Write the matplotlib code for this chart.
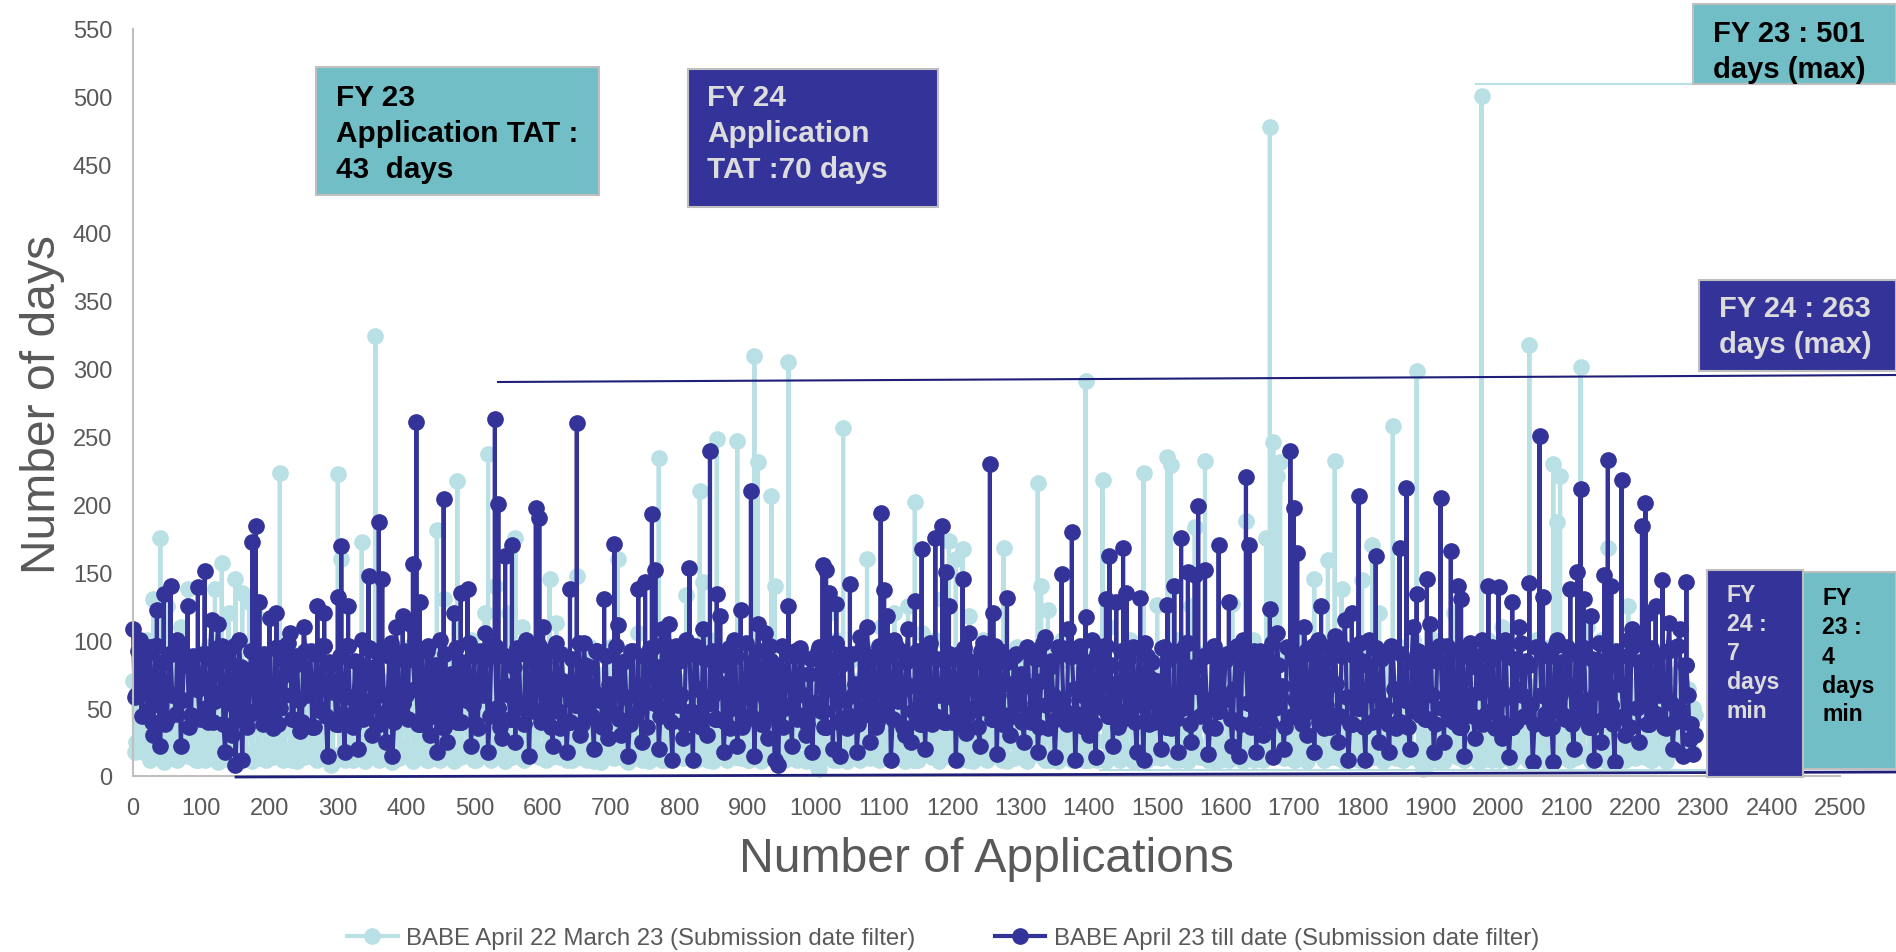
import numpy as np
import matplotlib
matplotlib.use("Agg")
import matplotlib.pyplot as plt
from matplotlib.lines import Line2D
from matplotlib.patches import Rectangle

plt.rcParams['font.family'] = ['Liberation Sans', 'DejaVu Sans']

# values, one row per 100 applications, one value every 5
days_fy23 = [
    [70,25,45,18,100,12,130,35,175,10,125,15,90,12,110,20,138,14,85,12],
    [30,12,95,14,138,10,157,14,120,10,145,12,135,16,128,11,118,13,90,12],
    [40,14,60,223,12,80,16,55,11,90,14,70,15,50,12,85,18,75,8,60],
    [222,160,12,60,16,75,14,172,11,80,18,324,12,70,14,55,10,65,13,90],
    [20,95,11,70,15,60,12,85,14,181,12,130,16,90,11,217,14,75,18,100],
    [12,55,16,120,237,12,140,15,85,11,120,14,175,16,110,13,90,18,60,14],
    [80,12,145,18,113,14,90,12,70,16,147,14,85,12,95,11,75,10,60,15],
    [95,13,160,16,80,10,70,14,105,12,85,11,70,16,234,12,90,18,75,14],
    [70,13,133,16,90,12,210,143,14,100,11,248,18,80,12,95,16,247,13,85],
    [12,70,309,231,11,100,16,206,140,14,80,12,305,18,70,13,90,11,75,16],
    [60,5,90,14,120,12,100,16,256,11,85,14,70,12,95,160,13,75,16,110],
    [14,85,12,120,16,70,11,125,14,202,12,105,16,90,14,100,11,130,15,173],
    [14,160,12,167,16,118,11,85,14,100,12,70,16,90,14,168,11,75,13,95],
    [14,80,11,70,16,216,140,12,122,14,90,11,100,15,85,12,75,14,70,291],
    [12,95,14,80,218,11,110,16,75,12,90,14,100,11,70,16,223,12,85,14],
    [126,13,70,235,229,12,100,14,80,11,125,183,15,90,232,12,95,11,70,16],
    [90,12,127,14,80,11,188,16,100,14,70,12,175,478,246,221,231,13,85,16],
    [12,100,14,80,11,70,145,16,90,12,159,14,232,13,138,11,85,16,70,12],
    [144,12,90,170,14,120,11,85,16,258,13,95,12,75,14,100,298,11,5,85],
    [14,100,12,85,11,75,16,120,14,90,12,70,15,80,11,501,14,100,12,85],
    [12,110,14,90,11,85,16,75,13,317,12,100,14,80,11,95,230,187,221,14],
    [85,12,90,14,301,16,110,11,85,14,100,12,168,10,90,14,75,12,125,16],
    [13,90,100,14,70,12,60,16,85,11,95,30,75,18,35,60,20,50],
]
days_fy24 = [
    [108,60,100,76,48,95,30,122,22,134,42,140,60,100,22,90,125,45,72,139],
    [70,151,40,115,55,112,96,18,84,30,8,100,12,78,45,172,184,128,38,60],
    [116,35,120,50,95,75,105,42,88,33,110,60,92,36,125,48,120,15,82,70],
    [132,169,18,125,40,85,20,100,55,147,30,92,187,145,25,88,15,110,45,118],
    [60,112,156,261,128,45,92,30,80,18,100,204,25,75,120,40,135,60,138,22],
    [88,35,70,105,18,96,263,200,28,162,60,170,25,90,50,100,15,85,197,190],
    [110,40,92,22,98,35,70,18,138,55,260,30,98,48,80,20,92,60,130,28],
    [60,171,111,30,85,15,92,45,138,25,143,60,193,152,20,108,50,112,12,96],
    [85,28,100,153,12,95,45,108,30,239,60,134,118,18,88,35,100,22,122,40],
    [72,210,15,112,38,105,28,85,12,8,96,50,125,22,92,45,88,30,75,18],
    [50,95,155,152,135,20,127,15,90,35,141,60,18,102,45,110,25,88,40,194],
    [137,118,12,100,55,92,30,108,25,129,45,167,20,88,38,175,60,184,150,125],
    [40,12,90,145,32,105,50,85,22,98,60,230,120,16,92,45,131,30,88,55],
    [75,25,95,40,92,18,70,102,35,85,14,95,149,48,108,180,12,90,60,117],
    [30,100,14,85,50,130,162,22,128,40,168,135,60,95,18,131,12,88,72,40],
    [70,20,95,126,35,140,18,175,60,150,25,148,199,45,152,16,90,35,170,55],
    [85,128,22,90,15,100,220,170,40,18,92,30,78,123,14,105,60,20,95,239],
    [197,164,50,110,30,90,18,100,125,35,95,45,103,25,88,115,12,120,60,206],
    [85,12,100,40,162,25,90,50,18,95,35,168,60,212,20,110,134,45,88,145],
    [112,18,85,205,25,96,166,40,140,130,15,92,60,28,88,100,45,140,95,35],
    [139,28,100,14,128,40,110,60,85,142,10,95,250,132,35,88,10,100,60,45],
    [95,138,20,150,211,130,40,118,12,85,25,148,233,140,10,90,218,30,100,108],
    [100,25,184,201,120,45,125,60,144,35,113,20,95,108,15,143,27,16],
]
# the busy band under the spikes, one value between each pair of the rows above
band_fy23 = [
    [18,60,22,55,16,48,20,62,14,58,24,66,18,70,15,52,26,60,12,64],
    [20,58,14,72,24,50,16,68,12,74,22,80,18,64,14,70,20,55,16,60],
    [14,66,22,52,18,60,12,70,26,48,16,62,20,56,14,68,24,50,10,58],
    [16,54,22,64,12,50,18,72,14,58,26,66,20,48,16,60,12,68,22,52],
    [18,62,14,56,24,70,12,50,20,64,16,58,26,72,14,54,22,60,18,66],
    [12,58,20,68,16,52,24,62,14,72,18,50,22,66,12,60,26,54,16,70],
    [20,56,14,64,22,50,18,70,12,60,26,54,16,66,20,52,14,62,24,58],
    [16,68,22,50,12,62,20,56,26,70,14,54,18,60,22,66,12,52,16,64],
    [24,58,14,72,18,50,20,64,12,56,26,68,16,60,22,52,14,70,18,54],
    [12,62,20,50,24,66,14,58,18,72,16,54,22,60,12,68,26,50,20,64],
    [6,56,16,70,22,52,12,62,18,48,26,66,14,58,20,54,16,72,12,60],
    [22,50,18,64,14,58,24,68,12,54,20,62,16,70,26,52,14,60,18,56],
    [14,72,20,52,12,60,24,66,16,50,18,58,22,70,12,54,26,62,14,64],
    [20,56,16,68,22,50,14,62,12,72,18,54,24,60,16,66,20,52,12,58],
    [18,64,12,50,26,60,16,70,22,54,14,58,20,66,12,52,24,62,18,68],
    [14,56,22,72,16,50,12,64,20,58,26,68,14,52,18,60,22,54,12,70],
    [24,62,16,50,20,66,14,56,12,72,22,60,18,52,26,64,16,58,14,68],
    [12,54,20,70,18,62,24,50,14,58,16,66,22,52,12,72,20,60,26,56],
    [16,64,14,50,22,68,12,60,18,54,24,70,16,58,20,62,14,52,6,66],
    [22,56,12,72,18,50,26,64,14,60,20,54,16,68,12,58,24,62,18,52],
    [14,70,20,56,16,64,22,50,12,66,18,60,26,54,14,72,20,52,16,58],
    [12,62,24,50,18,68,14,56,22,70,16,54,20,60,10,64,26,52,18,66],
    [14,60,22,50,12,56,20,48,16,62,24,52,18,58,40,64,30,45],
]
band_fy24 = [
    [58,92,44,88,70,40,96,52,84,38,90,60,46,94,56,82,36,88,64,42],
    [90,50,86,40,94,62,38,88,54,96,42,80,66,36,92,48,84,58,90,44],
    [52,94,38,86,60,98,42,82,56,40,92,68,36,90,50,96,44,84,62,38],
    [88,46,96,58,36,84,66,42,94,52,80,38,90,60,48,98,40,86,54,92],
    [42,86,64,38,92,50,96,44,82,58,36,90,68,46,94,40,84,56,98,52],
    [38,92,60,86,44,96,50,36,88,66,42,80,94,54,38,90,62,48,96,40],
    [84,56,36,94,48,90,64,40,86,52,98,38,82,60,44,92,56,36,88,68],
    [46,96,42,84,58,38,92,66,50,88,36,94,54,80,44,98,62,40,86,52],
    [60,38,90,48,96,64,36,86,54,92,42,82,68,40,94,50,88,58,36,98],
    [44,84,62,92,38,56,96,46,80,66,36,90,52,88,42,94,60,38,86,54],
    [92,48,36,86,64,98,40,82,56,44,90,68,38,94,50,84,60,36,96,46],
    [52,88,42,96,60,36,84,66,48,92,38,80,54,98,44,86,62,40,90,58],
    [86,56,38,94,46,82,64,36,92,50,88,42,96,60,38,84,68,44,90,54],
    [40,92,66,48,86,36,98,52,80,60,42,94,56,38,88,64,46,96,36,84],
    [62,38,90,54,96,44,82,68,36,92,48,86,58,40,94,52,98,38,84,64],
    [46,94,36,86,60,42,92,50,98,38,80,66,44,88,56,36,96,48,84,60],
    [90,42,64,96,38,84,54,36,92,60,46,88,40,98,50,82,66,36,94,44],
    [56,86,38,92,48,96,62,40,84,52,36,90,68,44,94,58,38,88,50,98],
    [36,82,60,94,44,86,52,38,96,64,40,90,56,36,84,48,92,66,42,88],
    [60,38,96,50,84,42,92,66,36,88,54,98,44,80,62,38,94,48,86,56],
    [40,92,58,36,86,64,98,44,82,52,38,94,60,46,88,36,96,54,84,42],
    [66,38,90,48,94,56,36,86,62,98,42,80,52,38,92,68,44,88,36,96],
    [50,84,60,38,94,46,88,66,36,92,54,40,96,48,82,60,38,30],
]

x_ticks = list(range(0, 2501, 100))
y_ticks = list(range(0, 551, 50))

light = '#b9e0e4'
navy = '#333399'
teal_box = '#72bec6'
grey = '#595959'
W, H = 1896, 953


def px(x, y):
    return x / W, 1 - y / H


def expand(rows, band):
    xs, ys = [], []
    for i, (row, brow) in enumerate(zip(rows, band)):
        for j, v in enumerate(row):
            x = i * 100 + j * 5
            if v > 115 and ys:
                # spikes go straight up and come back down
                last = ys[-1]
                xs += [x, x, x]
                ys += [last, v, last]
            else:
                xs.append(x)
                ys.append(v)
            if j < len(brow):
                xs.append(x + 2.5)
                ys.append(brow[j])
    return xs, ys


def box(x0, y0, x1, y1, color, lines, tcolor, size, tx, ty, step):
    fx0, fy1 = px(x0, y1)
    fx1, fy0 = px(x1, y0)
    fig.add_artist(Rectangle((fx0, fy1), fx1 - fx0, fy0 - fy1, transform=fig.transFigure,
                             facecolor=color, edgecolor='#bfbfbf', linewidth=1.5, zorder=5))
    for i, t in enumerate(lines):
        fx, fy = px(tx, ty + i * step)
        fig.text(fx, fy, t, color=tcolor, fontsize=size, fontweight='bold',
                 va='center', ha='left', zorder=6)


def pxline(x0, y0, x1, y1, color, lw):
    a, b = px(x0, y0), px(x1, y1)
    fig.add_artist(Line2D([a[0], b[0]], [a[1], b[1]], color=color, linewidth=lw,
                          transform=fig.transFigure, zorder=4))


fig = plt.figure(figsize=(18.96, 9.53), dpi=100)
l, t = px(133, 30)
r, b = px(1840, 777)
ax = fig.add_axes([l, b, r - l, t - b])

x23, y23 = expand(days_fy23, band_fy23)
x24, y24 = expand(days_fy24, band_fy24)
ax.plot(x23, y23, '-o', color=light, lw=3, ms=11, clip_on=False,
        label='BABE April 22 March 23 (Submission date filter)')
ax.plot(x24, y24, '-o', color=navy, lw=3, ms=11, clip_on=False,
        label='BABE April 23 till date (Submission date filter)')

ax.set_xlim(0, 2500)
ax.set_ylim(0, 550)
ax.set_xticks(x_ticks)
ax.set_yticks(y_ticks)
ax.tick_params(length=0, labelsize=17, labelcolor=grey, pad=15)
for s in ['top', 'right']:
    ax.spines[s].set_visible(False)
for s in ['left', 'bottom']:
    ax.spines[s].set_color('#bfbfbf')
    ax.spines[s].set_linewidth(1.5)

fig.text(*px(986, 860), 'Number of Applications', color=grey, fontsize=34.7, ha='center', va='center')
fig.text(*px(43, 405), 'Number of days', color=grey, fontsize=34.6, ha='center', va='center', rotation=90)

ax.legend(loc='center', bbox_to_anchor=px(943, 939), bbox_transform=fig.transFigure, ncol=2,
          frameon=False, fontsize=17.3, labelcolor=grey, handlelength=2.1, handletextpad=0.35,
          columnspacing=3.3, markerscale=1.0)

pxline(1476, 84.5, 1693, 84.5, light, 1.5)
pxline(498, 383, 1896, 376, '#1f1f7a', 1.5)
pxline(236, 778, 1896, 773, '#1f1f7a', 2)
pxline(1100, 771, 1707, 771, light, 1.5)

box(316, 68, 599, 196, teal_box, ['FY 23', 'Application TAT :', '43  days'], 'black', 21.4, 336, 98, 36)
box(688, 70, 938, 208, navy, ['FY 24', 'Application', 'TAT :70 days'], '#dcdcdc', 21.4, 707, 98, 36)
box(1693, 5, 1896, 85, teal_box, ['FY 23 : 501', 'days (max)'], 'black', 21, 1713, 34, 36)
box(1699, 281, 1896, 372, navy, ['FY 24 : 263', 'days (max)'], '#dcdcdc', 21, 1719, 309, 36)
box(1803, 573, 1896, 770, teal_box, ['FY', '23 :', '4', 'days', 'min'], 'black', 16.6, 1822, 599, 29)
box(1707, 571, 1803, 778, navy, ['FY', '24 :', '7', 'days', 'min'], '#dcdcdc', 16.6, 1727, 596, 29)

fig.savefig('out.png', dpi=100)
